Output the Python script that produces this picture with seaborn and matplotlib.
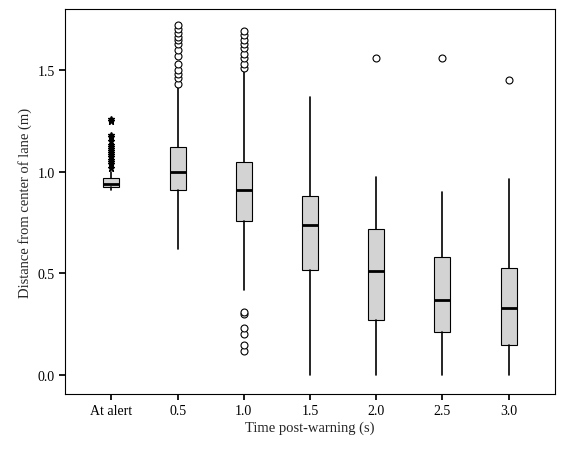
import matplotlib
matplotlib.use("Agg")
import matplotlib.pyplot as plt
import seaborn as sns

categories = ["At alert", "0.5", "1.0", "1.5", "2.0", "2.5", "3.0"]
q1 = [0.925, 0.91, 0.76, 0.515, 0.27, 0.21, 0.15]
med = [0.94, 1.0, 0.91, 0.74, 0.51, 0.37, 0.33]
q3 = [0.97, 1.12, 1.05, 0.88, 0.72, 0.58, 0.525]
whislo = [0.91, 0.62, 0.42, 0.0, 0.0, 0.0, 0.0]
whishi = [1.0, 1.42, 1.49, 1.365, 0.975, 0.9, 0.965]
fliers = [
    [1.02, 1.04, 1.05, 1.06, 1.07, 1.08, 1.09, 1.10, 1.11, 1.12, 1.13, 1.15, 1.17, 1.18, 1.25, 1.26],
    [1.43, 1.46, 1.48, 1.50, 1.53, 1.57, 1.60, 1.63, 1.65, 1.66, 1.68, 1.70, 1.72],
    [0.12, 0.15, 0.20, 0.23, 0.30, 0.31, 1.51, 1.53, 1.56, 1.58, 1.61, 1.63, 1.65, 1.67, 1.69],
    [], [1.56], [1.56], [1.45],
]

sns.set_theme(style="white")
plt.rcParams["font.family"] = ["Liberation Serif", "DejaVu Serif"]

fig = plt.figure(figsize=(5.68, 4.56), dpi=100)
ax = fig.add_axes([65/568, 1-395/456, 490/568, 385/456])

stats = [dict(label=c, q1=a, med=m, q3=b, whislo=lo, whishi=hi, fliers=[])
         for c, a, m, b, lo, hi in zip(categories, q1, med, q3, whislo, whishi)]
pos = list(range(1, len(categories) + 1))
ax.bxp(stats, positions=pos, widths=0.24, showfliers=False, patch_artist=True,
       boxprops=dict(facecolor="#d3d3d3", edgecolor="black", linewidth=0.8),
       medianprops=dict(color="black", linewidth=2),
       whiskerprops=dict(color="black", linewidth=1.2),
       capprops=dict(linewidth=0), manage_ticks=False)
for i, f in enumerate(fliers):
    if not f:
        continue
    if i == 0:
        ax.plot([pos[i]] * len(f), f, linestyle="none", marker="*", color="black", markersize=5)
    else:
        ax.plot([pos[i]] * len(f), f, linestyle="none", marker="o", mfc="white", mec="black", markersize=5, mew=0.8)

ax.set_xlim(0.3, 7.7)
ax.set_ylim(-0.093, 1.80)
ax.set_xticks(pos)
ax.set_xticklabels(categories)
ax.set_yticks([0.0, 0.5, 1.0, 1.5])
ax.set_yticklabels(["0.0", "0.5", "1.0", "1.5"])
ax.tick_params(axis="both", length=4, direction="out", colors="black", labelsize=10, left=True, bottom=True)
for s in ax.spines.values():
    s.set_color("black"); s.set_linewidth(0.8)
ax.set_xlabel("Time post-warning (s)", fontsize=10.5, labelpad=2)
ax.set_ylabel("Distance from center of lane (m)", fontsize=10.5)
fig.savefig("out.png", dpi=100)
